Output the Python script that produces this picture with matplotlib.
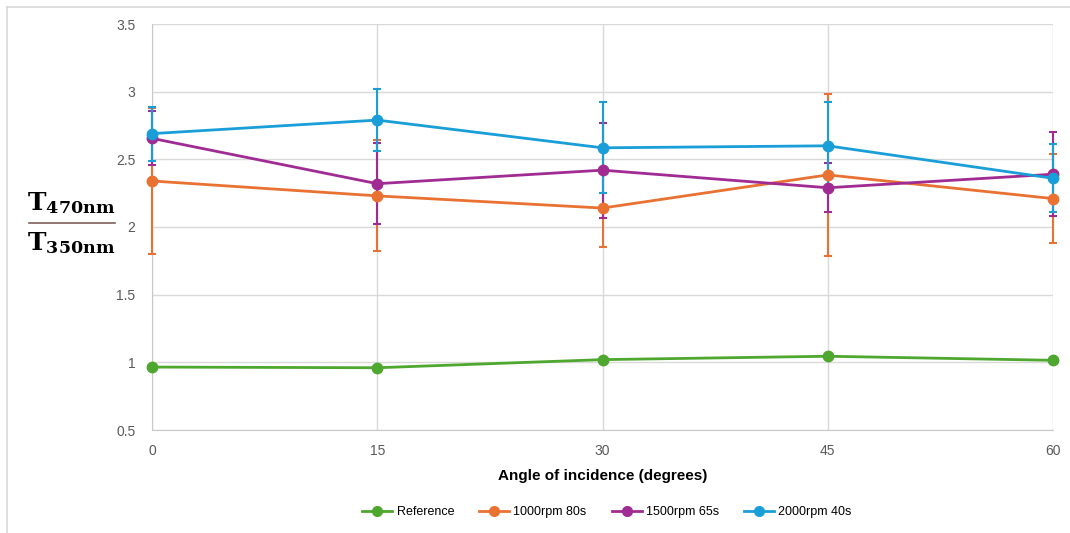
import numpy as np
import matplotlib.pyplot as plt
from matplotlib.lines import Line2D

angles = [0, 15, 30, 45, 60]

ref_vals = [0.965, 0.96, 1.02, 1.045, 1.015]

rpm1000_vals = [2.34, 2.23, 2.14, 2.385, 2.21]
rpm1000_err = [0.54, 0.41, 0.29, 0.60, 0.33]

rpm1500_vals = [2.655, 2.32, 2.42, 2.29, 2.39]
rpm1500_err = [0.20, 0.30, 0.35, 0.18, 0.31]

rpm2000_vals = [2.69, 2.79, 2.585, 2.60, 2.36]
rpm2000_err = [0.20, 0.23, 0.335, 0.32, 0.25]

labels = ['Reference', '1000rpm 80s', '1500rpm 65s', '2000rpm 40s']
colors = ['#4ea72e', '#e97132', '#a02b93', '#199ed8']

plt.rcParams['font.family'] = ['Liberation Sans', 'DejaVu Sans']
plt.rcParams['mathtext.fontset'] = 'dejavuserif'

fig = plt.figure(figsize=(10.70, 5.33), dpi=100)
ax = fig.add_axes([152 / 1070, 1 - 430 / 533, (1053 - 152) / 1070, (430 - 24) / 533])

# outer chart border (top and left edges visible)
fig.add_artist(Line2D([7 / 1070, 7 / 1070], [0, 1 - 7 / 533], transform=fig.transFigure,
                      color='#d9d9d9', lw=1.2))
fig.add_artist(Line2D([7 / 1070, 1], [1 - 7 / 533, 1 - 7 / 533], transform=fig.transFigure,
                      color='#d9d9d9', lw=1.2))

series = [
    (ref_vals, None),
    (rpm1000_vals, rpm1000_err),
    (rpm1500_vals, rpm1500_err),
    (rpm2000_vals, rpm2000_err),
]
handles = []
for (vals, err), lab, c in zip(series, labels, colors):
    ax.errorbar(angles, vals, yerr=err, color=c, lw=2, marker='o', ms=7.5,
                capsize=3, capthick=1.5, elinewidth=1.5,
                clip_on=False, zorder=3)
    handles.append(Line2D([], [], color=c, lw=2, marker='o', ms=7, label=lab))

ax.set_xlim(0, 60)
ax.set_ylim(0.5, 3.5)
ax.set_xticks(angles)
ax.set_yticks(np.arange(0.5, 3.51, 0.5))
ax.set_yticklabels(['0.5', '1', '1.5', '2', '2.5', '3', '3.5'])
ax.grid(True, color='#d9d9d9', lw=1)
ax.set_axisbelow(True)
for s in ['top', 'right']:
    ax.spines[s].set_visible(False)
for s in ['left', 'bottom']:
    ax.spines[s].set_color('#c8c8c8')
ax.tick_params(length=0, labelsize=10, labelcolor='#595959')
ax.tick_params(axis='x', pad=10)
ax.tick_params(axis='y', pad=12)

ax.set_xlabel('Angle of incidence (degrees)', fontsize=11, fontweight='bold', labelpad=8)

# y label drawn as a fraction
fig.text(71 / 1070, 1 - 203 / 533, r'$\mathbf{T}_{\mathbf{470nm}}$', fontsize=18,
         ha='center', va='center')
fig.text(71 / 1070, 1 - 243 / 533, r'$\mathbf{T}_{\mathbf{350nm}}$', fontsize=18,
         ha='center', va='center')
fig.add_artist(Line2D([29 / 1070, 115 / 1070], [1 - 223 / 533, 1 - 223 / 533],
                      transform=fig.transFigure, color='#7f605c', lw=1.2))

fig.legend(handles=handles, loc='center', bbox_to_anchor=(607 / 1070, 1 - 512 / 533),
           ncol=4, frameon=False, fontsize=9, handlelength=2.4, columnspacing=2.0,
           handletextpad=0.35)

fig.savefig('out.png', dpi=100)
